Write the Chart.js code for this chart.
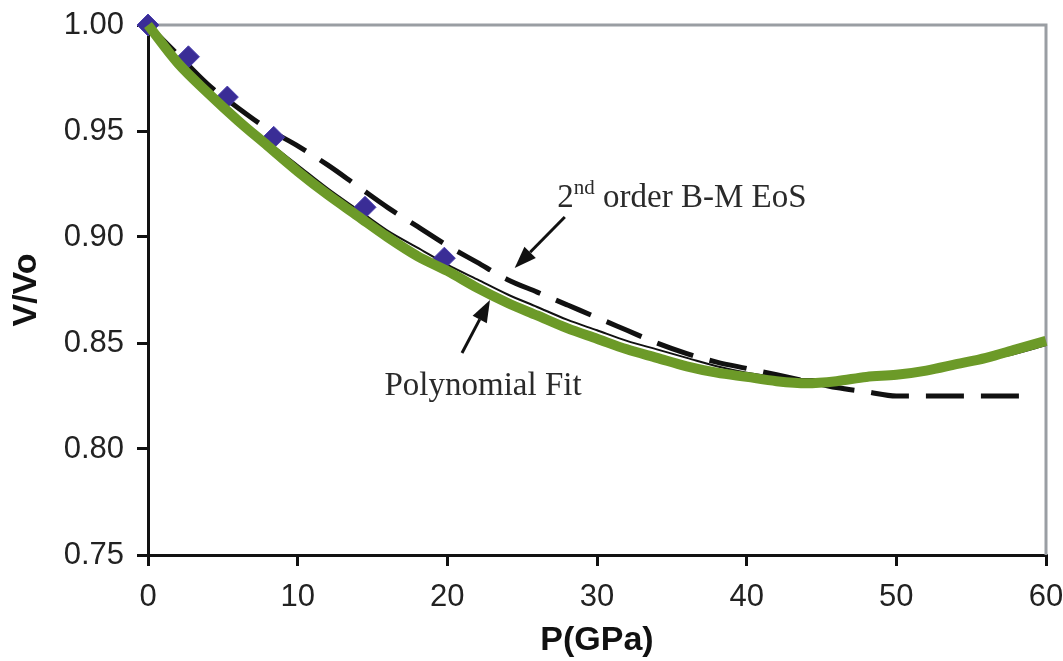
<!DOCTYPE html>
<html>
<head>
<meta charset="utf-8">
<script src="https://cdn.jsdelivr.net/npm/chart.js@4.4.1/dist/chart.umd.min.js"></script>
<style>
  html, body { margin: 0; padding: 0; background: #fff; }
  #wrap { width: 1063px; height: 661px; }
</style>
</head>
<body>
<div id="wrap"><canvas id="eosChart" width="1063" height="661"></canvas></div>
<script>
// pressure grid for the fitted curves (GPa)
const pressure = [0, 2, 4, 6, 8, 10, 12, 14, 16, 18, 20, 22, 24, 26, 28, 30, 32, 34, 36, 38, 40, 42, 44, 46, 48, 50, 52, 54, 56, 58, 60];
// green polynomial fit
const polyFit = [1.000, 0.982, 0.968, 0.955, 0.943, 0.931, 0.920, 0.910, 0.900, 0.891, 0.884, 0.876, 0.869, 0.863, 0.857, 0.852, 0.847, 0.843, 0.839, 0.836, 0.834, 0.832, 0.831, 0.832, 0.834, 0.835, 0.837, 0.840, 0.843, 0.847, 0.851];
// thin black fit through the data
const dataFit = [1.000, 0.984, 0.970, 0.957, 0.945, 0.934, 0.923, 0.913, 0.903, 0.895, 0.887, 0.880, 0.873, 0.867, 0.861, 0.856, 0.851, 0.847, 0.843, 0.839, 0.836, 0.834, 0.833, 0.833, 0.833, 0.834, 0.836, 0.839, 0.842, 0.845, 0.849];
// 2nd order B-M EoS (dashed)
const bmP = [0, 2, 4, 6, 8, 10, 12, 14, 16, 18, 20, 22, 24, 26, 28, 30, 32, 34, 36, 38, 40, 42, 44, 46, 48, 50, 52, 54, 56, 58, 59];
const bmV = [1.000, 0.986, 0.972, 0.961, 0.951, 0.943, 0.934, 0.924, 0.914, 0.905, 0.896, 0.888, 0.880, 0.874, 0.868, 0.862, 0.856, 0.850, 0.845, 0.841, 0.838, 0.835, 0.832, 0.829, 0.827, 0.825, 0.825, 0.825, 0.825, 0.825, 0.825];
// experimental points
const expP = [0, 2.7, 5.3, 8.4, 14.5, 19.8];
const expV = [1.000, 0.985, 0.966, 0.947, 0.914, 0.890];

const xTicks = [0, 10, 20, 30, 40, 50, 60];
const yTicks = [0.75, 0.80, 0.85, 0.90, 0.95, 1.00];

function pts(xs, ys) {
    return xs.map((x, i) => ({ x: x, y: ys[i] }));
}

// labels and arrows, placed in data units
const notes = [
    { x: 27.35, y: 0.914, main: '2', sup: 'nd', rest: ' order B-M EoS' },
    { x: 15.8, y: 0.8255, main: 'Polynomial Fit', sup: '', rest: '' }
];
const arrows = [
    { x1: 27.85, y1: 0.9094, x2: 24.5, y2: 0.8854 },
    { x1: 20.98, y1: 0.8453, x2: 22.85, y2: 0.8703 }
];

const annotate = {
    id: 'annotate',
    beforeDatasetsDraw(chart) {
        const a = chart.chartArea, ctx = chart.ctx;
        ctx.save();
        ctx.strokeStyle = '#9a9ea3';
        ctx.lineWidth = 3;
        ctx.beginPath();
        ctx.moveTo(a.left, a.top);
        ctx.lineTo(a.right, a.top);
        ctx.lineTo(a.right, a.bottom);
        ctx.stroke();
        ctx.restore();
    },
    afterDatasetsDraw(chart) {
        const ctx = chart.ctx, xs = chart.scales.x, ys = chart.scales.y;
        ctx.save();
        ctx.fillStyle = '#2a2a2a';
        ctx.textBaseline = 'alphabetic';
        notes.forEach(n => {
            let px = xs.getPixelForValue(n.x), py = ys.getPixelForValue(n.y);
            ctx.font = '33px "Liberation Serif", "Times New Roman", serif';
            ctx.fillText(n.main, px, py);
            px += ctx.measureText(n.main).width;
            if (n.sup) {
                ctx.font = '21px "Liberation Serif", "Times New Roman", serif';
                ctx.fillText(n.sup, px, py - 13);
                px += ctx.measureText(n.sup).width;
            }
            if (n.rest) {
                ctx.font = '33px "Liberation Serif", "Times New Roman", serif';
                ctx.fillText(n.rest, px, py);
            }
        });
        ctx.strokeStyle = '#111';
        ctx.fillStyle = '#111';
        ctx.lineWidth = 3;
        arrows.forEach(ar => {
            const x1 = xs.getPixelForValue(ar.x1), y1 = ys.getPixelForValue(ar.y1);
            const x2 = xs.getPixelForValue(ar.x2), y2 = ys.getPixelForValue(ar.y2);
            const ang = Math.atan2(y2 - y1, x2 - x1);
            const hl = 22, hw = 8;
            const bx = x2 - hl * Math.cos(ang), by = y2 - hl * Math.sin(ang);
            ctx.beginPath();
            ctx.moveTo(x1, y1);
            ctx.lineTo(bx, by);
            ctx.stroke();
            ctx.beginPath();
            ctx.moveTo(x2, y2);
            ctx.lineTo(bx + hw * Math.sin(ang), by - hw * Math.cos(ang));
            ctx.lineTo(bx - hw * Math.sin(ang), by + hw * Math.cos(ang));
            ctx.closePath();
            ctx.fill();
        });
        ctx.restore();
    }
};

const tickFont = { family: '"Liberation Sans", Arial, sans-serif', size: 31 };
const titleFont = { family: '"Liberation Sans", Arial, sans-serif', size: 34, weight: 'bold' };

new Chart(document.getElementById('eosChart'), {
    type: 'scatter',
    data: {
        datasets: [
            {
                label: 'fit',
                data: pts(pressure, dataFit),
                showLine: true,
                borderColor: '#111',
                borderWidth: 2,
                pointRadius: 0,
                cubicInterpolationMode: 'monotone',
                clip: false,
                order: 4
            },
            {
                label: '2nd order B-M EoS',
                data: pts(bmP, bmV),
                showLine: true,
                borderColor: '#111',
                borderWidth: 5,
                borderDash: [38, 17],
                pointRadius: 0,
                cubicInterpolationMode: 'monotone',
                clip: false,
                order: 3
            },
            {
                label: 'data',
                data: pts(expP, expV),
                showLine: false,
                pointStyle: 'rectRot',
                pointRadius: 11,
                backgroundColor: '#3a2d96',
                borderColor: '#4a3fae',
                borderWidth: 1,
                clip: false,
                order: 2
            },
            {
                label: 'Polynomial Fit',
                data: pts(pressure, polyFit),
                showLine: true,
                borderColor: '#6c9a28',
                borderWidth: 10,
                pointRadius: 0,
                cubicInterpolationMode: 'monotone',
                clip: false,
                order: 1
            }
        ]
    },
    options: {
        responsive: false,
        animation: false,
        layout: { padding: { top: 25, right: 17, left: 0, bottom: 0 } },
        plugins: { legend: { display: false }, tooltip: { enabled: false } },
        scales: {
            x: {
                type: 'linear',
                min: 0, max: 60,
                afterFit: s => { s.height = 106; s.paddingLeft = 0; s.paddingRight = 0; },
                afterBuildTicks: s => { s.ticks = xTicks.map(v => ({ value: v })); },
                border: { display: true, color: '#111', width: 3 },
                grid: { drawOnChartArea: false, drawTicks: true, tickLength: 11, color: '#111', lineWidth: 3 },
                ticks: { color: '#222', font: tickFont, padding: 13, maxRotation: 0 },
                title: { display: true, text: 'P(GPa)', color: '#111', font: titleFont, padding: { top: 0, bottom: 0 } }
            },
            y: {
                type: 'linear',
                min: 0.75, max: 1.00,
                afterFit: s => { s.width = 148; s.paddingTop = 0; s.paddingBottom = 0; },
                afterBuildTicks: s => { s.ticks = yTicks.map(v => ({ value: v })); },
                border: { display: true, color: '#111', width: 3 },
                grid: { drawOnChartArea: false, drawTicks: true, tickLength: 11, color: '#111', lineWidth: 3 },
                ticks: { color: '#222', font: tickFont, padding: 13, callback: v => v.toFixed(2) },
                title: { display: true, text: 'V/Vo', color: '#111', font: titleFont, padding: { top: 6, bottom: 0 } }
            }
        }
    },
    plugins: [annotate]
});
</script>
</body>
</html>
